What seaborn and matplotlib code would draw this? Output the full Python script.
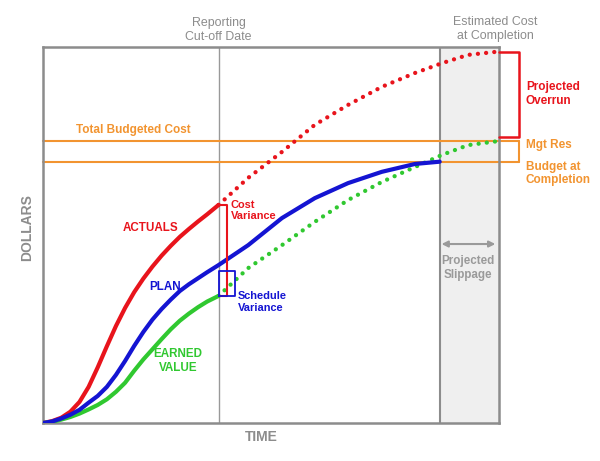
import matplotlib
matplotlib.use('Agg')
import matplotlib.pyplot as plt
import seaborn as sns
import pandas as pd

# ------------------------------------------------
# DATA  (time 0..100, dollars 0..100, no real units)
# ------------------------------------------------
t_to_date = [0, 2, 4, 6, 8, 10, 12, 14, 16, 18, 20, 22, 24, 26, 28, 30, 32, 34, 36, 38.5]
actuals = [0, 0.5, 1.4, 3, 5.6, 9.6, 14.8, 20.4, 25.8, 30.6, 34.8, 38.4, 41.6,
           44.5, 47.1, 49.5, 51.6, 53.6, 55.5, 58]
earned = [0, 0.3, 0.9, 1.6, 2.5, 3.6, 4.8, 6.3, 8.3, 10.7, 13.9, 16.9, 19.6,
          22.3, 24.9, 27.2, 29.1, 30.8, 32.3, 33.8]
plan_to_date = [0, 0.4, 1.2, 2.2, 3.5, 5.4, 7.2, 9.6, 12.8, 16.5, 20.5, 24.2, 27.5,
                30.3, 32.8, 35.1, 36.9, 38.5, 40.1, 42]

t_plan_rest = [45, 52.4, 59.6, 66.9, 74.3, 81.6, 87]
plan_rest = [47.3, 54.5, 59.8, 63.8, 66.8, 68.9, 69.5]

t_forecast = [38.5, 45, 52.4, 59.6, 66.9, 74.3, 81.6, 87.5, 93.2, 100]
actuals_forecast = [58, 65.2, 72.1, 79.3, 84.6, 89.4, 93.1, 95.7, 97.9, 98.8]
earned_forecast = [33.8, 41.2, 47.3, 53.5, 59.3, 64.1, 68.1, 71.3, 73.9, 75]

cutoff = 38.5
plan_finish = 87
forecast_finish = 100
total_budget = 75
budget_at_completion = 69.5

# ------------------------------------------------
# STYLE
# ------------------------------------------------
sns.set_style('white')
plt.rcParams['font.family'] = ['Liberation Sans', 'DejaVu Sans']

RED = '#e8141c'
BLUE = '#1414d2'
GREEN = '#30c830'
ORANGE = '#f29430'
GRAY = '#8c8c8c'

fig = plt.figure(figsize=(6, 4.61), dpi=100)
ax = fig.add_axes([43 / 600, 1 - 423 / 461, 456 / 600, 376 / 461])
ax.set_xlim(0, 100)
ax.set_ylim(0, 100)
ax.set_xticks([])
ax.set_yticks([])
for s in ax.spines.values():
    s.set_color(GRAY)
    s.set_linewidth(1.8)

# slippage zone and cut-off line
ax.axvspan(plan_finish, forecast_finish, color='#efefef', zorder=0)
ax.axvline(plan_finish, color=GRAY, lw=1.5, zorder=1)
ax.axvline(cutoff, color='#999999', lw=1, zorder=1)

# budget lines (run out to the bracket)
bx = 104.4
for yv in (total_budget, budget_at_completion):
    ax.plot([0, bx], [yv, yv], color=ORANGE, lw=1.5, clip_on=False, zorder=2)
ax.plot([bx, bx], [budget_at_completion, total_budget], color=ORANGE, lw=1.5,
        clip_on=False, zorder=2)

# curves
df_act = pd.DataFrame({'t': t_to_date, 'y': actuals})
df_ev = pd.DataFrame({'t': t_to_date, 'y': earned})
df_pv = pd.DataFrame({'t': t_to_date + t_plan_rest, 'y': plan_to_date + plan_rest})
df_act_f = pd.DataFrame({'t': t_forecast, 'y': actuals_forecast})
df_ev_f = pd.DataFrame({'t': t_forecast, 'y': earned_forecast})

dots = dict(lw=3.1, linestyle=(0, (0.01, 1.9)), dash_capstyle='round',
            estimator=None, sort=False, clip_on=False, zorder=4)
sns.lineplot(data=df_act_f, x='t', y='y', color=RED, ax=ax, **dots)
sns.lineplot(data=df_ev_f, x='t', y='y', color=GREEN, ax=ax, **dots)

solid = dict(lw=3, estimator=None, sort=False, solid_capstyle='round',
             solid_joinstyle='round', zorder=5)
sns.lineplot(data=df_act, x='t', y='y', color=RED, ax=ax, **solid)
sns.lineplot(data=df_ev, x='t', y='y', color=GREEN, ax=ax, **solid)
sns.lineplot(data=df_pv, x='t', y='y', color=BLUE, ax=ax, **solid)
ax.set_xlabel('')
ax.set_ylabel('')

# cost variance bracket
ax.plot([cutoff, 40.4, 40.4, cutoff], [actuals[-1], actuals[-1], earned[-1], earned[-1]],
        color=RED, lw=1.5, zorder=6)
# schedule variance box
ax.plot([cutoff, 42.2, 42.2, cutoff, cutoff],
        [earned[-1], earned[-1], 40.4, 40.4, earned[-1]], color=BLUE, lw=1.3, zorder=6)
# projected overrun bracket
ax.plot([forecast_finish, bx, bx, forecast_finish],
        [actuals_forecast[-1], actuals_forecast[-1], 76.1, 76.1],
        color=RED, lw=1.8, clip_on=False, zorder=6)

# slippage arrow
ax.annotate('', xy=(87.4, 47.6), xytext=(99.2, 47.6),
            arrowprops=dict(arrowstyle='<|-|>', color='#9a9a9a', lw=1.5,
                            mutation_scale=9, shrinkA=0, shrinkB=0))

# ------------------------------------------------
# TEXT
# ------------------------------------------------
def tx(x, y, s, color, ha='left', size=8.5, weight='bold', **kw):
    ax.text(x, y, s, color=color, ha=ha, va='center', fontsize=size,
            fontweight=weight, linespacing=1.15, clip_on=False, **kw)

tx(cutoff, 104.5, 'Reporting\nCut-off Date', GRAY, ha='center', size=8.9, weight='normal')
tx(99.1, 104.8, 'Estimated Cost\nat Completion', GRAY, ha='center', size=8.9, weight='normal')
tx(7.2, 77.9, 'Total Budgeted Cost', ORANGE)
tx(105.9, 87.5, 'Projected\nOverrun', RED)
tx(105.9, 73.9, 'Mgt Res', ORANGE)
tx(105.9, 66.4, 'Budget at\nCompletion', ORANGE)
tx(41.2, 56.6, 'Cost\nVariance', RED, size=7.9)
tx(23.5, 51.9, 'ACTUALS', RED, ha='center', size=8.4)
tx(26.8, 36.2, 'PLAN', BLUE, ha='center', size=8.4)
tx(42.8, 32.2, 'Schedule\nVariance', BLUE, size=7.9)
tx(29.6, 16.5, 'EARNED\nVALUE', GREEN, ha='center', size=8.4)
tx(93.2, 41.2, 'Projected\nSlippage', '#9a9a9a', ha='center', size=8.4)
tx(-3.4, 51.9, 'DOLLARS', GRAY, ha='center', size=10, rotation=90)
tx(47.8, -3.7, 'TIME', GRAY, ha='center', size=10)

fig.savefig('out.png', dpi=100)
